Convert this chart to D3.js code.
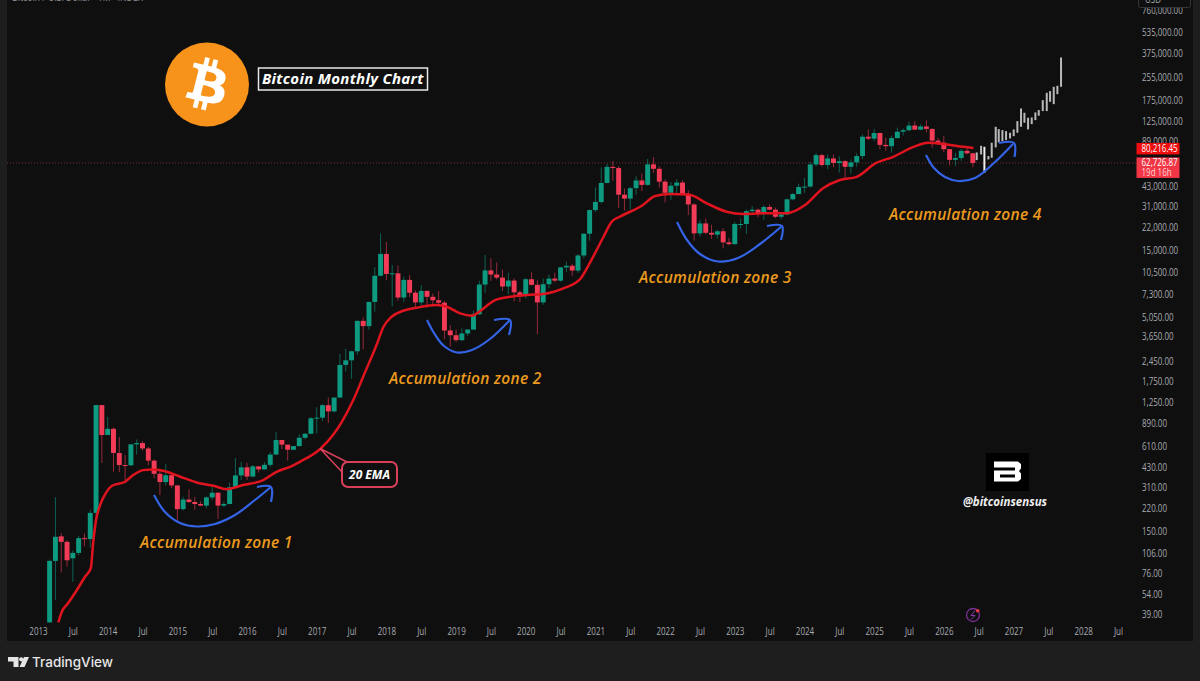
<!DOCTYPE html>
<html>
<head>
<meta charset="utf-8">
<script src="https://cdn.jsdelivr.net/npm/d3@7"></script>
<style>
  html, body { margin: 0; padding: 0; background: #1e1e1e; }
  svg { display: block; font-family: "Open Sans", sans-serif; }
</style>
</head>
<body>
<svg id="chart" width="1200" height="681"></svg>
<script>
// Month number counted from Jan 2013. The candles start at Mar 2013.
const firstMonth = 2;

const opens = [
    34, 93, 139, 127, 97, 106, 135, 133, 204, 1192,
    730, 808, 544, 447, 445, 627, 640, 586, 480, 387, 338, 378,
    320, 217, 254, 244, 236, 230, 263, 284, 230, 236, 311, 377,
    430, 370, 437, 416, 448, 530, 673, 624, 574, 609, 698, 745,
    960, 970, 1190, 1075, 1348, 2300, 2480, 2875, 4730, 4340, 6450, 9900,
    14150, 10200, 10300, 6930, 9250, 7500, 6400, 7730, 7010, 6630, 6370, 4040,
    3740, 3450, 3850, 4100, 5270, 8570, 10800, 10100, 9600, 8300, 9150, 7550,
    7190, 9350, 8530, 6400, 8620, 9450, 9140, 11350, 11650, 10780, 13800, 19700,
    29000, 33100, 45200, 58800, 57700, 37300, 35000, 41500, 47100, 43800, 61300, 57000,
    46200, 38500, 43200, 45500, 37700, 31800, 19800, 23300, 20000, 19400, 20500, 17100,
    16600, 23100, 23100, 28500, 29200, 27200, 30500, 29200, 26000, 27000, 34600, 37700,
    42300, 42600, 61200, 71300, 60700, 67500, 62700, 64600, 58900, 63300, 70200, 96400,
    93400, 102400, 84300, 82500, 94200, 104600, 107200, 115700, 108200, 114000, 109500, 90400,
    87500, 78600, 66000, 68000, 76500, 73500
];
const highs = [
    95, 264, 147, 130, 110, 140, 146, 215, 1192, 1192,
    984, 825, 706, 526, 630, 680, 660, 600, 490, 415, 455, 382,
    320, 265, 300, 265, 247, 268, 315, 285, 245, 335, 500, 470,
    465, 447, 440, 470, 550, 770, 675, 620, 610, 740, 755, 980,
    1150, 1210, 1350, 1350, 2760, 3000, 2900, 4750, 5000, 6470, 11400, 19800,
    17200, 11800, 11700, 9750, 10000, 7780, 8480, 7750, 7400, 7700, 6550, 4400,
    4100, 4200, 4150, 5600, 9100, 13900, 13200, 12300, 10950, 10400, 9500, 7750,
    9550, 10500, 9190, 9460, 10070, 10400, 11440, 12480, 12060, 14100, 19800, 29300,
    41950, 58350, 61800, 64800, 59500, 41300, 42500, 50500, 52900, 67000, 69000, 59100,
    47900, 45800, 48200, 47400, 40000, 32400, 24700, 25200, 22800, 21000, 21500, 18400,
    23900, 25200, 29200, 31000, 29800, 31400, 31800, 30200, 27500, 35000, 38400, 44700,
    48900, 64000, 73800, 72700, 71900, 71900, 70000, 65600, 66500, 73600, 99800, 108300,
    109500, 102700, 95000, 97900, 111900, 110500, 123200, 124500, 117900, 126200, 110600, 94600,
    97900, 79000, 74000, 79000, 82000, 74000
];
const lows = [
    33, 49, 77, 85, 66, 102, 118, 116, 195, 462,
    730, 400, 398, 349, 440, 530, 565, 445, 360, 273, 320, 305,
    178, 212, 240, 215, 228, 220, 253, 185, 225, 235, 310, 350,
    350, 365, 395, 415, 435, 530, 580, 480, 570, 605, 680, 740,
    750, 920, 890, 1060, 1345, 2070, 1830, 2700, 2970, 4100, 5500, 9800,
    9200, 6000, 6600, 6430, 7000, 5750, 6050, 5880, 6100, 6200, 3500, 3100,
    3350, 3400, 3700, 4100, 5200, 7500, 9100, 9350, 7700, 7300, 6500, 6430,
    6850, 8450, 3800, 6150, 8100, 8900, 8970, 10500, 9900, 10400, 13200, 17600,
    28100, 32300, 45000, 47000, 30000, 28800, 29300, 37300, 39600, 43300, 53300, 42000,
    32900, 34300, 37100, 37600, 26700, 17600, 18800, 19500, 18100, 18200, 15500, 16300,
    16500, 21400, 19600, 26900, 25800, 24800, 28900, 25400, 24900, 26600, 34100, 37600,
    38500, 41900, 59300, 59200, 56600, 58500, 53500, 49100, 52600, 58900, 66800, 91300,
    89200, 78200, 76600, 74500, 93400, 98200, 105100, 107300, 107300, 103500, 80600, 84400,
    75000, 60400, 60000, 65000, 72000, 58500
];
const closes = [
    93, 138, 127, 94, 106, 135, 133, 204, 1192, 730,
    808, 544, 447, 445, 627, 640, 586, 480, 387, 338, 378, 320,
    217, 254, 244, 236, 230, 263, 284, 230, 236, 311, 377, 430,
    370, 437, 416, 448, 530, 673, 624, 574, 609, 698, 745, 960,
    970, 1190, 1075, 1348, 2300, 2480, 2875, 4730, 4340, 6450, 9900, 14150,
    10200, 10300, 6930, 9250, 7500, 6400, 7730, 7010, 6630, 6370, 4040, 3740,
    3450, 3850, 4100, 5270, 8570, 10800, 10100, 9600, 8300, 9150, 7550, 7190,
    9350, 8530, 6400, 8620, 9450, 9140, 11350, 11650, 10780, 13800, 19700, 29000,
    33100, 45200, 58800, 57700, 37300, 35000, 41500, 47100, 43800, 61300, 57000, 46200,
    38500, 43200, 45500, 37700, 31800, 19800, 23300, 20000, 19400, 20500, 17100, 16600,
    23100, 23100, 28500, 29200, 27200, 30500, 29200, 26000, 27000, 34600, 37700, 42300,
    42600, 61200, 71300, 60700, 67500, 62700, 64600, 58900, 63300, 70200, 96400, 93400,
    102400, 84300, 82500, 94200, 104600, 107200, 115700, 108200, 114000, 109500, 90400, 87500,
    78600, 66000, 68000, 76500, 73500, 62726.87
];

// 20 EMA line
const emaMonths = [3.5, 4.1, 5.2, 6.7, 8.1, 9.1, 9.5, 10, 10.7, 11.5, 12.7, 15, 16.4, 18.1, 19.8, 22.2, 24.5, 27.3, 30.2, 32.5,
    35.3, 38.8, 41.1, 43.4, 45.1, 48.6, 50.8, 52.3, 54.3, 56, 58.3, 59.5, 60.9, 62.9, 65.2, 68.7, 70.4, 72.7, 74.7, 76.4,
    78.4, 81.3, 84.2, 87.6, 90.5, 93.4, 95, 97.4, 98.8, 100.2, 104, 106.3, 108.9, 112, 115.2, 118.6, 121.5, 124.9, 128.9, 132.1,
    135.2, 138.1, 141, 144.2, 147.3, 150.8, 153.3, 156.5, 159.4, 161.1];
const emaValues = [34, 40.5, 46.7, 57.8, 71.8, 82.8, 124.7, 181.6, 232, 273.5, 317, 340, 379, 411, 416, 400, 369, 336, 318, 301,
    322, 349, 400, 434, 471, 581, 730, 903, 1294, 1897, 3184, 4295, 5058, 5582, 5861, 6125, 5957, 5346, 5140, 5649,
    6546, 7015, 7211, 7413, 8054, 9400, 12130, 18750, 23930, 26000, 31120, 36480, 37670, 37500, 32360, 28200, 27170, 27480, 27480, 31480,
    41400, 47420, 50000, 62230, 69340, 81660, 87300, 84920, 81660, 80216.45];

// Grey projected bars after the last candle
const projMonths = [161.67, 162.42, 162.99, 163.68, 164.25, 164.94, 165.46, 166.09, 166.72, 167.41, 168.04, 168.67,
    169.30, 169.88, 170.51, 171.14, 171.77, 172.35, 173.04, 173.73, 174.30, 174.93, 175.56, 176.19];
const projTops = [74500, 83100, 81750, 70200, 87300, 113400, 109100, 107400, 105600, 102800, 108600, 124400,
    153000, 142600, 131400, 132100, 143400, 149000, 175400, 197800, 203300, 218200, 221800, 352700];
const projBottoms = [65700, 72100, 53400, 66450, 68300, 80900, 87800, 89700, 91100, 93700, 97300, 102800,
    113400, 121100, 108600, 118500, 126500, 135800, 146600, 146600, 170700, 164300, 193500, 218200];

const priceTicks = [39, 54, 76, 106, 150, 220, 310, 430, 610, 890, 1250, 1750, 2450, 3650, 5050, 7300, 10500, 15000,
    22000, 31000, 43000, 89000, 125000, 175000, 255000, 375000, 535000, 760000];
const timeTicks = d3.range(0, 187, 6);
const lastPrice = 62726.87;
const lastEma = 80216.45;

const zones = ["Accumulation zone 1", "Accumulation zone 2", "Accumulation zone 3", "Accumulation zone 4"];

const green = "#0d9a80";
const red = "#f23c57";

let svg = d3.select("#chart");

let x = d3.scaleLinear().domain([0, 186]).range([38, 1118]);
let y = d3.scaleLog().domain([39, 535000]).range([614, 32]);

// the axis font on the original is narrow, no narrow family here so squeeze Open Sans
function axisText(sel, size, fill) {
    sel.attr("font-size", size).attr("font-family", "'Open Sans', sans-serif").attr("fill", fill)
        .attr("lengthAdjust", "spacingAndGlyphs")
        .attr("textLength", function() { return this.getComputedTextLength() * 0.8; });
}

// background, frame colour comes from the body
svg.append("rect").attr("x", 7).attr("y", 0).attr("width", 1186).attr("height", 641).attr("fill", "#0f0f0f");
svg.append("clipPath").attr("id", "pane").append("rect").attr("x", 7).attr("y", 0).attr("width", 1128).attr("height", 623);

// clipped header line
svg.append("text").attr("x", 12).attr("y", 1).text("Bitcoin / U.S. Dollar · 1M · INDEX").call(axisText, 11, "#8f9196");

// last price line
svg.append("line").attr("x1", 7).attr("x2", 1136).attr("y1", y(lastPrice)).attr("y2", y(lastPrice))
    .attr("stroke", "#a33a45").attr("stroke-width", 1).attr("stroke-dasharray", "1,2").attr("opacity", 0.7);

let pane = svg.append("g").attr("clip-path", "url(#pane)");

let candles = pane.append("g").selectAll("g").data(d3.range(opens.length)).enter().append("g");
let barWidth = (x(1) - x(0)) * 0.85;
let colorOf = i => closes[i] >= opens[i] ? green : red;

candles.append("line")
    .attr("x1", i => x(firstMonth + i)).attr("x2", i => x(firstMonth + i))
    .attr("y1", i => y(highs[i])).attr("y2", i => y(lows[i]))
    .attr("stroke", colorOf).attr("stroke-width", 1).attr("opacity", 0.6);

candles.append("rect")
    .attr("x", i => x(firstMonth + i) - barWidth / 2)
    .attr("width", barWidth)
    .attr("y", i => y(Math.max(opens[i], closes[i])))
    .attr("height", i => Math.max(1, Math.abs(y(opens[i]) - y(closes[i]))))
    .attr("fill", colorOf);

// projection bars
pane.append("g").selectAll("rect").data(projMonths).enter().append("rect")
    .attr("x", d => x(d) - 1)
    .attr("width", 2)
    .attr("y", (d, i) => y(projTops[i]))
    .attr("height", (d, i) => y(projBottoms[i]) - y(projTops[i]))
    .attr("fill", (d, i) => i === 2 ? "#eeeeee" : "#b9b9b9");

// 20 EMA
let emaLine = d3.line().x((d, i) => x(emaMonths[i])).y(d => y(d)).curve(d3.curveMonotoneX);
pane.append("path").datum(emaValues)
    .attr("d", emaLine).attr("fill", "none").attr("stroke", "#e0141f").attr("stroke-width", 2.5);

// axes
let xAxis = d3.axisBottom(x).tickValues(timeTicks).tickSize(0).tickPadding(5)
    .tickFormat(m => m % 12 === 0 ? String(2013 + m / 12) : "Jul");
let gx = svg.append("g").attr("transform", "translate(0,623)").call(xAxis);
gx.select(".domain").remove();
gx.selectAll("text").call(axisText, 10, "#a8aaaf");

let yAxis = d3.axisRight(y).tickValues(priceTicks).tickSize(0).tickPadding(0).tickFormat(d3.format(",.2f"));
let gy = svg.append("g").attr("transform", "translate(1142,0)").call(yAxis);
gy.select(".domain").remove();
gy.selectAll("text").call(axisText, 10, "#a8aaaf");

// USD box at the top of the price axis
svg.append("rect").attr("x", 1138.5).attr("y", -4).attr("width", 52).attr("height", 11.5).attr("rx", 2)
    .attr("fill", "#0f0f0f").attr("stroke", "#33353a");
svg.append("text").attr("x", 1145).attr("y", 3).text("USD").call(axisText, 10, "#a8aaaf");

// price labels
svg.append("rect").attr("x", 1136.5).attr("y", y(lastEma) - 5).attr("width", 43).attr("height", 11.5).attr("fill", "#ee0c0c");
svg.append("text").attr("x", 1141.5).attr("y", y(lastEma) + 3.8).text(d3.format(",.2f")(lastEma)).call(axisText, 10, "#ffffff");
svg.append("rect").attr("x", 1136.5).attr("y", y(lastPrice) - 5.5).attr("width", 43).attr("height", 20.5).attr("fill", "#f23645");
svg.append("text").attr("x", 1141.5).attr("y", y(lastPrice) + 3.3).text(d3.format(",.2f")(lastPrice)).call(axisText, 10, "#ffffff");
svg.append("text").attr("x", 1141.5).attr("y", y(lastPrice) + 12.8).text("19d 16h").call(axisText, 10, "#ffd5d9");

// blue arrows, drawn by hand on the original so they sit in screen space
let blue = "#3464e6";
let arrowLine = d3.line().curve(d3.curveCatmullRom);
let arrows = [
    [[154, 495], [165, 512], [180, 523], [197, 526.5], [215, 524], [235, 515], [255, 500], [271, 487]],
    [[427, 320], [434, 333], [444, 346], [457, 352.5], [472, 350], [490, 339], [510, 320]],
    [[677, 222], [687, 240], [700, 254], [718, 261.5], [738, 258], [760, 244], [782, 226]],
    [[926, 155], [934, 168], [945, 177], [958, 181], [975, 178], [995, 162], [1013, 144]]
];
let heads = [
    [[257, 487], [271, 487], [271, 502]],
    [[494, 320], [510, 320], [509, 335]],
    [[767, 226], [782, 226], [781, 240]],
    [[999, 143], [1014, 143], [1014.5, 157]]
];
svg.append("g").selectAll("path").data(arrows.concat(heads)).enter().append("path")
    .attr("d", d => arrowLine(d)).attr("fill", "none")
    .attr("stroke", blue).attr("stroke-width", 2.2);

// zone labels
let zonePos = [[140, 548], [389, 384], [639, 283], [889, 220]];
svg.append("g").selectAll("text").data(zones).enter().append("text")
    .attr("x", (d, i) => zonePos[i][0]).attr("y", (d, i) => zonePos[i][1])
    .attr("font-size", 15.5).attr("font-style", "italic").attr("font-weight", 600).attr("letter-spacing", 0.3)
    .attr("fill", "#ec9a1e").text(d => d);

// bitcoin logo
svg.append("circle").attr("cx", 207).attr("cy", 84.5).attr("r", 42).attr("fill", "#f7931a");
svg.append("path")
    .attr("transform", "translate(207,84.5) scale(1.3125) translate(-32,-32)")
    .attr("fill", "#ffffff")
    .attr("d", "M46.103 27.444c.64-4.266-2.61-6.56-7.05-8.09l1.44-5.78-3.52-.88-1.4 5.63c-.92-.23-1.87-.45-2.81-.66l1.41-5.66-3.52-.88-1.44 5.78c-.76-.17-1.51-.34-2.24-.52l.004-.02-4.85-1.21-.93 3.76s2.61.6 2.55.63c1.42.36 1.68 1.3 1.64 2.04l-1.64 6.58c.1.03.22.06.36.12l-.37-.09-2.3 9.22c-.17.43-.62 1.08-1.61.83.03.05-2.56-.64-2.56-.64l-1.75 4.03 4.58 1.14c.85.21 1.68.44 2.5.65l-1.46 5.85 3.52.88 1.44-5.79c.96.26 1.89.5 2.8.73l-1.44 5.76 3.52.88 1.46-5.84c6 1.14 10.51.68 12.41-4.75 1.53-4.37-.08-6.89-3.23-8.53 2.3-.53 4.03-2.04 4.49-5.16zM38.08 38.7c-1.09 4.37-8.45 2-10.84 1.41l1.94-7.75c2.39.6 10.04 1.78 8.9 6.34zm1.09-11.32c-.99 3.98-7.12 1.96-9.11 1.46l1.75-7.03c1.99.5 8.4 1.42 7.36 5.57z");

// title box
svg.append("rect").attr("x", 258.5).attr("y", 68).attr("width", 169).attr("height", 22)
    .attr("fill", "#0f0f0f").attr("stroke", "#e8e8e8").attr("stroke-width", 1.5);
svg.append("text").attr("x", 262).attr("y", 84).attr("font-size", 15).attr("letter-spacing", 0.3)
    .attr("font-style", "italic").attr("font-weight", 700).attr("fill", "#ffffff").text("Bitcoin Monthly Chart");

// 20 EMA callout
let calloutColor = "#d8405a";
svg.append("path").attr("d", "M347 462 L320 448.5 L342 472").attr("fill", "none").attr("stroke", calloutColor).attr("stroke-width", 1.5);
svg.append("rect").attr("x", 342).attr("y", 462).attr("width", 55).attr("height", 25).attr("rx", 6)
    .attr("fill", "#0f0f0f").attr("stroke", calloutColor).attr("stroke-width", 2);
svg.append("text").attr("x", 369.5).attr("y", 478.5).attr("text-anchor", "middle").attr("font-size", 12)
    .attr("font-style", "italic").attr("font-weight", 700).attr("fill", "#ffffff").text("20 EMA");

// watermark
svg.append("rect").attr("x", 986).attr("y", 453).attr("width", 43).attr("height", 38).attr("fill", "#000000");
svg.append("path").attr("fill", "#ffffff").attr("fill-rule", "evenodd")
    .attr("d", "M994 461.5 H1018 L1021 464 V468.5 L1019 471 L1021 473.5 V479 L1018 481.5 H994 V470.5 H1015 V467.5 H994 Z M1000 474.5 V477.5 H1015 V474.5 Z");
svg.append("text").attr("x", 1005).attr("y", 506).attr("text-anchor", "middle").attr("font-size", 11.5)
    .attr("font-style", "italic").attr("font-weight", 700).attr("fill", "#eeeeee").text("@bitcoinsensus");

// lightning icon
svg.append("circle").attr("cx", 973).attr("cy", 615).attr("r", 6.5).attr("fill", "none").attr("stroke", "#7a2f96").attr("stroke-width", 1.3);
svg.append("path").attr("d", "M975 610.5 L971 615.5 H975 L971 619.5").attr("fill", "none").attr("stroke", "#8a3aa8").attr("stroke-width", 1);
svg.append("circle").attr("cx", 977.7).attr("cy", 610.7).attr("r", 1.8).attr("fill", "#f23645");

// TradingView mark
svg.append("path").attr("fill", "#e6e6e6").attr("d", "M8 657 H18.5 V667 H13.5 V661.5 H8 Z M19.5 667 L24 657 H29 L24.5 667 Z");
svg.append("circle").attr("cx", 21.2).attr("cy", 659.3).attr("r", 2.1).attr("fill", "#e6e6e6");
svg.append("text").attr("x", 32).attr("y", 667).attr("font-size", 13.5).attr("font-family", "Inter, sans-serif")
    .attr("font-weight", 500).attr("fill", "#e6e6e6").text("TradingView");
</script>
</body>
</html>
